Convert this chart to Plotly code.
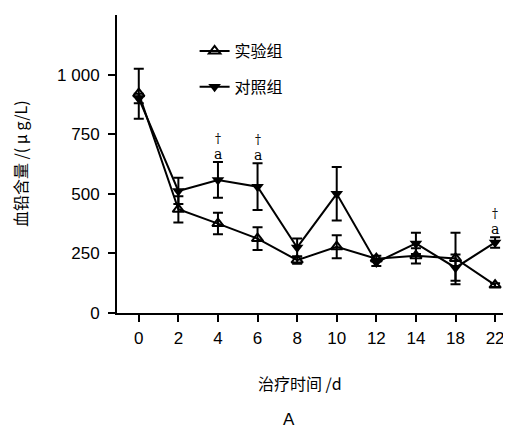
import plotly.graph_objects as go

days = ["0", "2", "4", "6", "8", "10", "12", "14", "18", "22"]
exp_vals = [920, 435, 375, 312, 222, 278, 228, 240, 229, 117]
exp_err = [105, 55, 45, 48, 15, 48, 12, 32, 108, 8]
ctl_vals = [900, 512, 558, 530, 275, 500, 212, 292, 190, 296]
ctl_err = [20, 55, 75, 98, 38, 112, 15, 45, 55, 22]
sig_days = ["4", "6", "22"]
y_ticks = [0, 250, 500, 750, 1000]
y_ticktext = ["0", "250", "500", "750", "1 000"]

xi = list(range(len(days)))
fig = go.Figure()
fig.add_trace(go.Scatter(
    x=xi, y=exp_vals, name="实验组", mode="lines+markers",
    line=dict(color="black", width=2),
    marker=dict(symbol="triangle-up-open", size=10, color="black", line=dict(width=2)),
    error_y=dict(type="data", array=exp_err, visible=True, color="black", thickness=2, width=5),
    legendgroup="a"))
fig.add_trace(go.Scatter(
    x=xi, y=ctl_vals, name="对照组", mode="lines+markers",
    line=dict(color="black", width=2),
    marker=dict(symbol="triangle-down", size=11, color="black"),
    error_y=dict(type="data", array=ctl_err, visible=True, color="black", thickness=2, width=5),
    legendgroup="b"))

for d in sig_days:
    i = days.index(d)
    top = ctl_vals[i] + ctl_err[i]
    fig.add_annotation(x=i, y=top, xref="x", yref="y", text="a", showarrow=False,
                       xanchor="center", yanchor="bottom", yshift=-2,
                       font=dict(family="DejaVu Serif", size=14, color="#000000"))
    fig.add_annotation(x=i, y=top, xref="x", yref="y", text="†", showarrow=False,
                       xanchor="center", yanchor="bottom", yshift=14,
                       font=dict(family="DejaVu Serif", size=12, color="#000000"))

fig.add_annotation(x=0.472, y=-0.235, xref="paper", yref="paper", text="治疗时间 /d",
                   showarrow=False, xanchor="center", yanchor="middle",
                   font=dict(family="Noto Sans CJK SC", size=16, color="black"))
fig.add_annotation(x=-0.25, y=0.5, xref="paper", yref="paper", text="血铅含量 /( μ g/L)",
                   showarrow=False, textangle=-90, xanchor="center", yanchor="middle",
                   font=dict(family="Noto Sans CJK SC", size=16, color="black"))
fig.add_annotation(x=0.443, y=-0.359, xref="paper", yref="paper", text="A",
                   showarrow=False, xanchor="center", yanchor="middle",
                   font=dict(family="Liberation Sans", size=17, color="black"))

fig.update_layout(
    width=503, height=422,
    margin=dict(l=109, r=6, t=7, b=117),
    plot_bgcolor="white", paper_bgcolor="white",
    showlegend=True,
    legend=dict(x=0.20, y=0.936, xanchor="left", yanchor="top",
                font=dict(family="Noto Sans CJK SC", size=16, color="black"),
                bgcolor="rgba(0,0,0,0)", tracegroupgap=12, traceorder="grouped"),
    xaxis=dict(range=[-0.55, 9.25], tickvals=xi, ticktext=days, showgrid=False,
               zeroline=False, showline=True, linecolor="black", linewidth=2,
               ticks="outside", ticklen=7, tickwidth=2, tickcolor="black",
               ticklabelstandoff=2,
               tickfont=dict(family="Liberation Sans", size=17, color="black")),
    yaxis=dict(range=[0, 1250], tickvals=y_ticks, ticktext=y_ticktext, showgrid=False,
               zeroline=False, showline=True, linecolor="black", linewidth=2,
               ticks="outside", ticklen=7, tickwidth=2, tickcolor="black",
               ticklabelstandoff=5,
               tickfont=dict(family="Liberation Sans", size=17, color="black")),
)
fig.write_html("out.html")
